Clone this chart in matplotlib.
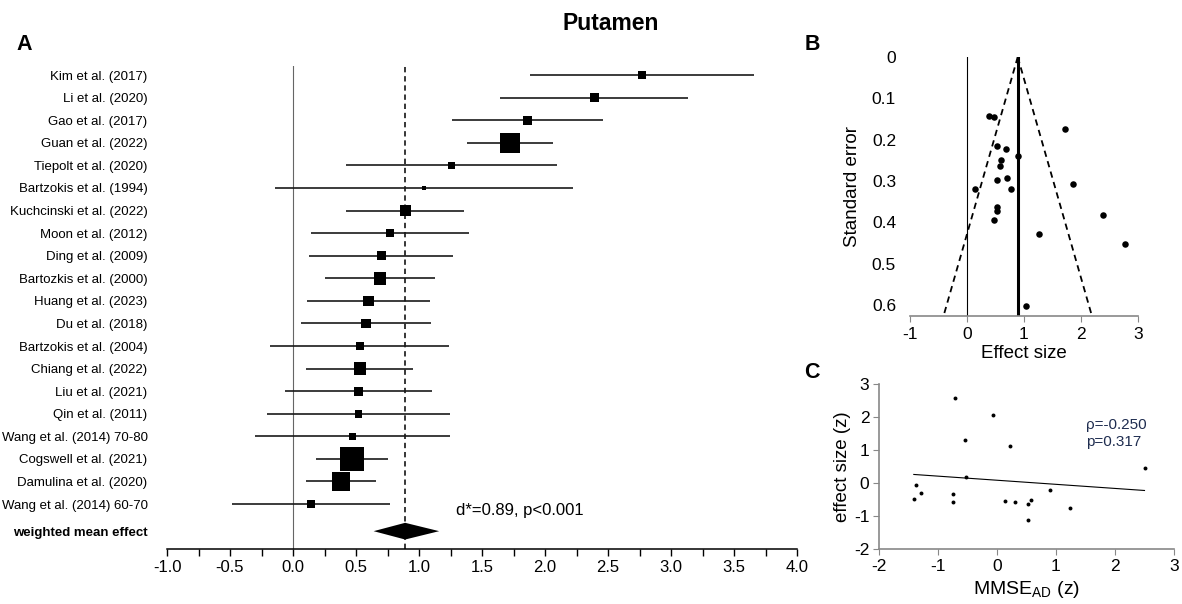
import numpy as np
import matplotlib
matplotlib.use("Agg")
import matplotlib.pyplot as plt
from matplotlib.ticker import MultipleLocator

plt.rcParams['font.family'] = ['Liberation Sans', 'DejaVu Sans']
plt.rcParams['mathtext.default'] = 'regular'
plt.rcParams['axes.unicode_minus'] = False

# ---- data -------------------------------------------------------------
studies = ['Kim et al. (2017)', 'Li et al. (2020)', 'Gao et al. (2017)',
           'Guan et al. (2022)', 'Tiepolt et al. (2020)', 'Bartzokis et al. (1994)',
           'Kuchcinski et al. (2022)', 'Moon et al. (2012)', 'Ding et al. (2009)',
           'Bartozkis et al. (2000)', 'Huang et al. (2023)', 'Du et al. (2018)',
           'Bartzokis et al. (2004)', 'Chiang et al. (2022)', 'Liu et al. (2021)',
           'Qin et al. (2011)', 'Wang et al. (2014) 70-80', 'Cogswell et al. (2021)',
           'Damulina et al. (2020)', 'Wang et al. (2014) 60-70']
effect = [2.77, 2.39, 1.86, 1.72, 1.26, 1.04, 0.89, 0.77, 0.70, 0.69,
          0.60, 0.58, 0.53, 0.53, 0.52, 0.52, 0.47, 0.47, 0.38, 0.14]
std_err = [0.453, 0.381, 0.307, 0.175, 0.427, 0.603, 0.240, 0.318, 0.292, 0.222,
           0.250, 0.263, 0.362, 0.216, 0.298, 0.372, 0.395, 0.146, 0.142, 0.320]
weight = [2.1, 3.0, 3.0, 14.8, 1.8, 0.7, 4.5, 2.4, 3.0, 5.8,
          4.1, 3.3, 2.7, 5.8, 3.0, 2.1, 1.6, 21.3, 12.7, 2.4]

pooled_d = 0.89
pooled_lo = 0.64
pooled_hi = 1.16
pooled_text = 'd*=0.89, p<0.001'

mmse_z = [-0.71, -0.07, -0.55, 0.22, 2.50, -0.53, -1.38, -1.29, -0.74,
          -1.41, -0.74, 0.14, 0.31, 0.57, 0.52, 0.90, 1.24, 0.52]
effect_z = [2.59, 2.05, 1.31, 1.11, 0.46, 0.17, -0.06, -0.30, -0.33,
            -0.47, -0.58, -0.56, -0.58, -0.50, -0.64, -0.22, -0.77, -1.11]
corr_text = 'ρ=-0.250\np=0.317'

effect = np.array(effect)
std_err = np.array(std_err)
weight = np.array(weight)

W, H = 1182, 604
fig = plt.figure(figsize=(W / 100, H / 100), dpi=100)


def box(l, t, r, b):
    return [l / W, 1 - b / H, (r - l) / W, (b - t) / H]


# ---- A: forest plot ---------------------------------------------------
ax = fig.add_axes(box(167, 66, 797, 549))
rows = np.arange(len(studies))
mean_row = len(studies) + 0.2
lo = effect - 1.96 * std_err
hi = effect + 1.96 * std_err

ax.axvline(0, color='#666666', lw=0.8, zorder=1)
ax.axvline(pooled_d, color='black', lw=1.1, ls=(0, (3.5, 2.5)), zorder=1)
ax.hlines(rows, lo, hi, color='#1a1a1a', lw=1.2, zorder=2)
side_pt = 5.2 * np.sqrt(weight) * 0.72
ax.scatter(effect, rows, marker='s', s=side_pt ** 2, color='black',
           linewidths=0, zorder=3)
h = 0.37
ax.fill([pooled_lo, pooled_d, pooled_hi, pooled_d],
        [mean_row, mean_row - h, mean_row, mean_row + h],
        color='black', lw=0, zorder=3)
ax.text(1.29, 19.3, pooled_text, fontsize=12, va='center')

ax.set_xlim(-1, 4)
ax.set_ylim(20.99, -0.4)
ax.xaxis.set_major_locator(MultipleLocator(0.5))
ax.xaxis.set_minor_locator(MultipleLocator(0.25))
ax.set_xticklabels([f'{v:.1f}' for v in ax.get_xticks()])
ax.tick_params(axis='x', which='both', direction='out', length=5, width=1,
               labelsize=12, pad=3)
ax.set_yticks(list(rows) + [mean_row])
ax.set_yticklabels(studies + ['weighted mean effect'], fontsize=9.5)
ax.get_yticklabels()[-1].set_fontweight('bold')
ax.tick_params(axis='y', length=0, pad=14)
for s in ['left', 'top', 'right']:
    ax.spines[s].set_visible(False)
ax.spines['bottom'].set_linewidth(1.1)

# ---- B: funnel plot ---------------------------------------------------
axb = fig.add_axes(box(910, 57, 1138, 316))
axb.axvline(0, color='black', lw=0.8)
axb.axvline(pooled_d, color='black', lw=2.2)
se_line = np.array([0, 0.7])
funnel_z = 2.08
axb.plot(pooled_d - funnel_z * se_line, se_line, color='black', lw=1.3,
         ls=(0, (3.5, 2.5)))
axb.plot(pooled_d + funnel_z * se_line, se_line, color='black', lw=1.3,
         ls=(0, (3.5, 2.5)))
axb.scatter(effect, std_err, s=22, color='black', zorder=3, linewidths=0)
axb.set_xlim(-1, 3)
axb.set_ylim(0.626, 0)
axb.set_xticks([-1, 0, 1, 2, 3])
axb.set_yticks([0, 0.1, 0.2, 0.3, 0.4, 0.5, 0.6])
axb.set_yticklabels(['0', '0.1', '0.2', '0.3', '0.4', '0.5', '0.6'])
axb.tick_params(axis='y', length=0, pad=10, labelsize=12.5)
axb.tick_params(axis='x', length=4, color='#888888', labelsize=12.5, pad=4)
for s in ['left', 'top', 'right']:
    axb.spines[s].set_visible(False)
axb.spines['bottom'].set_color('#888888')
axb.spines['bottom'].set_linewidth(1.2)
axb.set_xlabel('Effect size', fontsize=13.5, labelpad=2)
axb.set_ylabel('Standard error', fontsize=13.5, labelpad=8)

# ---- C: meta-regression -----------------------------------------------
axc = fig.add_axes(box(879, 384, 1174, 549))
axc.scatter(mmse_z, effect_z, s=8, color='black', linewidths=0, zorder=3)
slope, icpt = np.polyfit(mmse_z, effect_z, 1)
xf = np.array([min(mmse_z), max(mmse_z)])
axc.plot(xf, icpt + slope * xf, color='black', lw=0.8)
axc.text(1.51, 1.49, corr_text, color='#1f2d50', fontsize=11, va='center',
         linespacing=1.25)
axc.set_xlim(-2, 3)
axc.set_ylim(-2, 3)
axc.set_xticks(range(-2, 4))
axc.set_yticks(range(-2, 4))
axc.tick_params(length=4, color='#888888', labelsize=12.5, pad=3)
for s in ['top', 'right']:
    axc.spines[s].set_visible(False)
for s in ['left', 'bottom']:
    axc.spines[s].set_color('#888888')
    axc.spines[s].set_linewidth(1.2)
axc.set_xlabel('MMSE$_{AD}$ (z)', fontsize=14, labelpad=4)
axc.set_ylabel('effect size (z)', fontsize=13.5, labelpad=2)

# ---- titles and panel letters -----------------------------------------
fig.text(611 / W, 1 - 24 / H, 'Putamen', fontsize=16.5, fontweight='bold',
         ha='center', va='center')
fig.text(16 / W, 1 - 44 / H, 'A', fontsize=15.5, fontweight='bold', va='center')
fig.text(805 / W, 1 - 44 / H, 'B', fontsize=15.5, fontweight='bold', va='center')
fig.text(804 / W, 1 - 372 / H, 'C', fontsize=15.5, fontweight='bold', va='center')

fig.savefig('out.png', dpi=100)
